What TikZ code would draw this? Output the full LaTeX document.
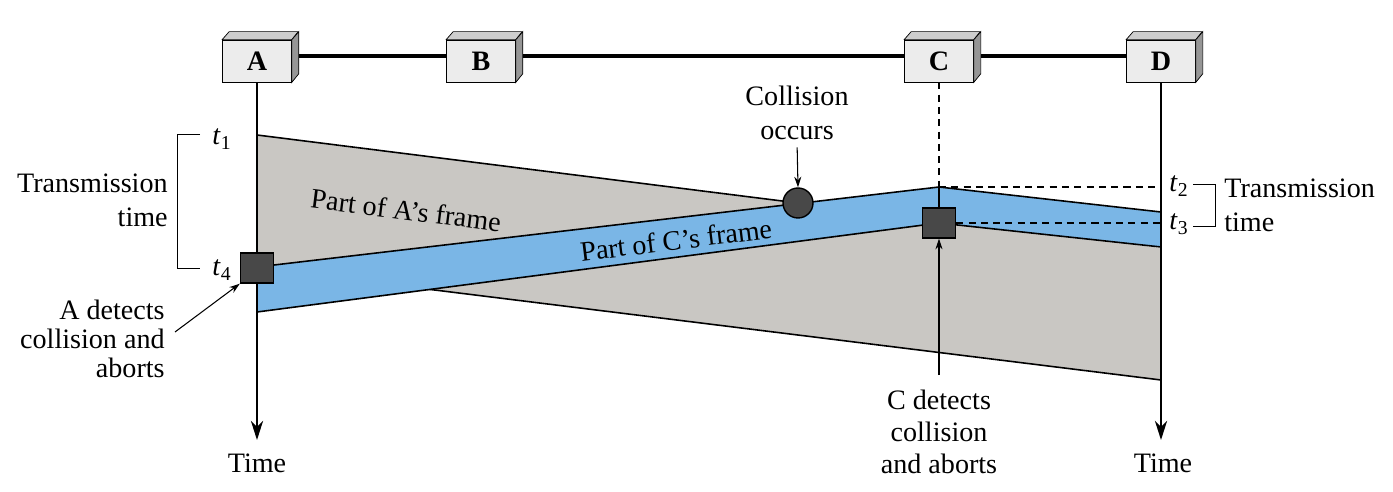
\documentclass[tikz,border=0pt]{standalone}
\usepackage{fontspec}
\setmainfont{Liberation Serif}
\usepackage{tikz}
\usetikzlibrary{
    arrows.meta,
    positioning,
    backgrounds
}
\definecolor{framea}{RGB}{201,199,195}
\definecolor{framec}{RGB}{122,182,230}
\definecolor{boxface}{RGB}{236,236,236}
\definecolor{boxtop}{RGB}{205,205,205}
\definecolor{boxside}{RGB}{150,150,150}
\definecolor{marker}{RGB}{72,72,72}

\tikzset{
    station/.style={draw, thin, fill=boxface, minimum width=1.38cm, minimum height=0.84cm,
        inner sep=0pt, font=\fontsize{16}{18}\selectfont\bfseries},
    lbl/.style={inner sep=0pt, font=\fontsize{16}{18}\selectfont},
    timeline/.style={line width=1.1pt, -{Stealth[length=11pt,width=7pt]}},
    pointer/.style={line width=0.6pt, -{Stealth[length=6pt,width=4pt]}},
    frameline/.style={line width=0.9pt},
    tdash/.style={line width=0.9pt, dash pattern=on 4pt off 3pt},
    hitmark/.style={draw, thick, fill=marker, inner sep=0pt}
}

\begin{document}
\begin{tikzpicture}[x=0.02cm, y=-0.02cm]
    \useasboundingbox (0,0) rectangle (1393,492);

    % Frames on the cable
    \fill[framea] (257,135) -- (1161,248) -- (1161,380) -- (257,268) -- cycle;
    \draw[frameline] (257,135) -- (798,203);
    \draw[frameline] (257,268) -- (1161,380);
    \fill[framec] (257,267) -- (939,187) -- (1161,212) -- (1161,247) -- (939,223) -- (257,312) -- cycle;
    \draw[frameline] (257,267) -- (939,187) -- (1161,212);
    \draw[frameline] (257,312) -- (939,223) -- (1161,247);

    \node[lbl, rotate=-7.2] (aFrame) at (406,210) {Part of A's frame};
    \node[lbl, rotate=7] (cFrame) at (676,240) {Part of C's frame};

    % Stations
    \foreach \n/\x in {A/257,B/481,C/939,D/1161} {
        \node[station] (st\n) at (\x,61) {\n};
        \filldraw[fill=boxtop, thin] (st\n.north west) -- ++(7,-8) -- ++(69,0) -- (st\n.north east) -- cycle;
        \filldraw[fill=boxside, thin] (st\n.north east) -- ++(7,-8) -- ++(0,42) -- (st\n.south east) -- cycle;
    }

    % Cable
    \begin{scope}[on background layer]
        \draw[line width=1.9pt] ([yshift=0.1cm]stA.center) -- ([yshift=0.1cm]stD.center);
    \end{scope}

    % Time lines
    \coordinate (endA) at (257,440);
    \coordinate (endD) at (1161,440);
    \draw[timeline] (stA.south) -- (endA);
    \draw[timeline] (stD.south) -- (endD);
    \node[lbl] (timeA) at (257,463) {Time};
    \node[lbl] (timeD) at (1163,463) {Time};

    % Station C
    \coordinate (apexC) at (939,187);
    \draw[tdash] (stC.south) -- (apexC);
    \draw[frameline] (apexC) -- (939,223);
    \node[hitmark, minimum width=0.66cm, minimum height=0.6cm] (sqC) at (939,223) {};
    \draw[tdash] (apexC) -- (apexC -| endD);
    \draw[tdash] (sqC.east) -- (sqC.east -| endD);

    % Collision marks
    \node[hitmark, minimum width=0.66cm, minimum height=0.6cm] (sqA) at (257,268) {};
    \node[hitmark, circle, minimum size=0.6cm] (coll) at (798,203) {};

    % Labels
    \node[lbl, align=center, font=\fontsize{16}{19.5}\selectfont] (collTxt) at (797,113) {Collision\\occurs};
    \draw[pointer, shorten <=4pt] (collTxt.south) -- (coll.north);

    \node[lbl, align=center] (cDet) at (939,432) {C detects\\collision\\and aborts};
    \draw[pointer] ([yshift=0.3cm]cDet.north) -- (sqC.south);

    \node[lbl, align=right, anchor=east, font=\fontsize{16}{16.5}\selectfont] (aDet) at (165,339)
        {A detects\\collision and\\aborts};
    \draw[pointer] ([xshift=0.2cm,yshift=0.14cm]aDet.east) -- (sqA.south west);

    % Transmission times
    \node[lbl, align=right, anchor=east, font=\fontsize{16}{19.5}\selectfont] (txLeft) at (168,200)
        {Transmission\\time};
    \node[lbl, align=left, anchor=west, font=\fontsize{16}{19.5}\selectfont] (txRight) at (1224,205)
        {Transmission\\time};

    \node[lbl] (tOne) at (222,139) {\textit{t}\textsubscript{1}};
    \node[lbl] (tFour) at (222,270) {\textit{t}\textsubscript{4}};
    \node[lbl] (tTwo) at (1179,186) {\textit{t}\textsubscript{2}};
    \node[lbl] (tThree) at (1179,224) {\textit{t}\textsubscript{3}};

    \draw[thin] (200,134) -| (177,268) -- (200,268);
    \draw[thin] (1193,184) -| (1215,226) -- (1193,226);
\end{tikzpicture}
\end{document}
